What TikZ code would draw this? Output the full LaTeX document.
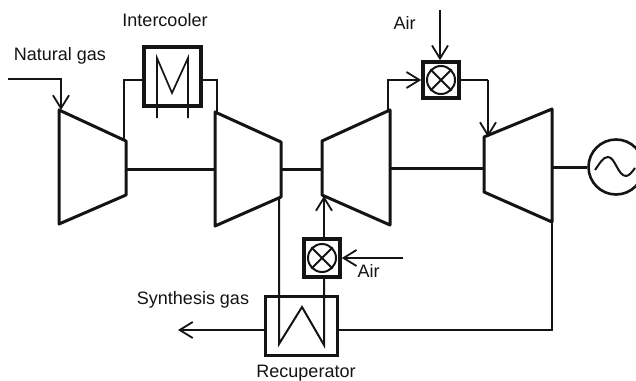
\documentclass[tikz,border=0pt]{standalone}
\usepackage{fontspec}
\setmainfont{Liberation Sans}
\usetikzlibrary{arrows.meta}
\definecolor{ink}{gray}{0.08}
\tikzset{
  flow/.style={draw=ink,line width=2pt,line join=miter},
  arr/.style={flow,-{Straight Barb[length=13pt,width=16pt,line width=1.8pt]}},
  shaft/.style={draw=ink,line width=3pt},
  machine/.style={draw=ink,line width=3pt,line join=round},
  box/.style={draw=ink,line width=3pt,inner sep=0pt,minimum width=#1},
  mixbox/.style={draw=ink,line width=3.6pt,inner sep=0pt,minimum size=36pt},
  mixcirc/.style={circle,draw=ink,line width=2pt,inner sep=0pt,minimum size=#1},
  lbl/.style={text=ink,font=\fontsize{18pt}{20pt}\selectfont,inner sep=0pt}
}
\begin{document}
\begin{tikzpicture}[x=1pt,y=-1pt]
\useasboundingbox[fill=white] (0,0) rectangle (636,380);
\clip (0,0) rectangle (636,380);
% machines
\coordinate (c1lt) at (59,110); \coordinate (c1lb) at (59,224);
\coordinate (c1rt) at (126,141); \coordinate (c1rb) at (126,195);
\coordinate (c2lt) at (215,112); \coordinate (c2lb) at (215,226);
\coordinate (c2rt) at (281,142); \coordinate (c2rb) at (281,197);
\coordinate (t1lt) at (322,141); \coordinate (t1lb) at (322,195);
\coordinate (t1rt) at (390,110); \coordinate (t1rb) at (390,225);
\coordinate (t2lt) at (484,137); \coordinate (t2lb) at (484,192);
\coordinate (t2rt) at (552,109); \coordinate (t2rb) at (552,222);
\draw[machine] (c1lt)--(c1rt)--(c1rb)--(c1lb)--cycle;
\draw[machine] (c2lt)--(c2rt)--(c2rb)--(c2lb)--cycle;
\draw[machine] (t1lt)--(t1rt)--(t1rb)--(t1lb)--cycle;
\draw[machine] (t2lt)--(t2rt)--(t2rb)--(t2lb)--cycle;
% shafts
\node[circle,draw=ink,line width=2.6pt,minimum size=55pt,inner sep=0pt] (gen) at (616,167) {};
\draw[shaft] (126,169) -- (215,169);
\draw[shaft] (281,169) -- (322,169);
\draw[shaft] (390,168) -- (484,168);
\draw[shaft] (552,167) -- (gen.west);
\draw[draw=ink,line width=2pt] (595,170) .. controls (600,163) and (603,157) .. (608,157) .. controls (615,157) and (618,176) .. (626,176) .. controls (629,176) and (632,172) .. (635,168);
% intercooler
\node[box=57pt,minimum height=59pt,line width=3.4pt] (ic) at (172.5,76.5) {};
\coordinate (m1) at (157,118); \coordinate (m2) at (157,58); \coordinate (m3) at (172,93);
\coordinate (m4) at (188,58); \coordinate (m5) at (188,118);
\draw[flow,line width=1.7pt] (m1)--(m2)--(m3)--(m4)--(m5);
\coordinate (ic1) at (124,80); \coordinate (ic2) at (217,80);
\draw[flow] (c1rt -| ic1) -- (ic1) -- (ic1 -| ic.west);
\draw[flow] (ic.east |- ic2) -- (ic2) -- (ic2 |- c2lt);
% natural gas
\coordinate (ngs) at (8,79); \coordinate (ngb) at (61,79); \coordinate (nge) at (61,110);
\draw[arr] (ngs) -- (ngb) -- (nge);
% top mixer
\node[mixbox] (mxt) at (441,80) {};
\node[mixcirc=28pt] (mxtc) at (441,80) {};
\draw[flow] (mxtc.north west)--(mxtc.south east) (mxtc.north east)--(mxtc.south west);
\coordinate (airt) at (440,10);
\draw[arr] (airt) -- (airt |- mxt.north);
\coordinate (t1o) at (388,110); \coordinate (t1c) at (388,80);
\draw[arr] (t1o) -- (t1c) -- (mxt.west);
\coordinate (mxc) at (488,80); \coordinate (t2i) at (488,137);
\draw[flow] (mxt.east) -- (mxc);
\draw[arr] (mxc) -- (t2i);
% recuperator
\node[box=72pt,minimum height=59pt] (rec) at (301,325.5) {};
% lower mixer
\node[mixbox,minimum height=38pt] (mxb) at (322,258) {};
\node[mixcirc=28pt] (mxbc) at (322,258) {};
\draw[flow] (mxbc.north west)--(mxbc.south east) (mxbc.north east)--(mxbc.south west);
\coordinate (airb) at (403,258);
\draw[arr] (airb) -- (mxb.east);
\coordinate (t1i) at (324,196);
\draw[arr] (324,239) -- (t1i);
\coordinate (z1) at (279,197); \coordinate (z2) at (279,344); \coordinate (z3) at (302,307);
\coordinate (z4) at (324,345); \coordinate (z5) at (324,277);
\draw[flow] (z1)--(z2)--(z3)--(z4)--(z5);
\coordinate (syn) at (178,330);
\draw[arr] (rec.west |- syn) -- (syn);
\coordinate (ex1) at (552,330);
\draw[flow] (rec.east |- ex1) -- (ex1) -- (t2rb);
% labels
\node[lbl] (l1) at (165,20) {Intercooler};
\node[lbl] (l2) at (60,56) {Natural gas};
\node[lbl] (l3) at (404.5,23) {Air};
\node[lbl] (l4) at (368.5,271) {Air};
\node[lbl] (l5) at (193,300) {Synthesis gas};
\node[lbl] (l6) at (306,373) {Recuperator};
\end{tikzpicture}
\end{document}
